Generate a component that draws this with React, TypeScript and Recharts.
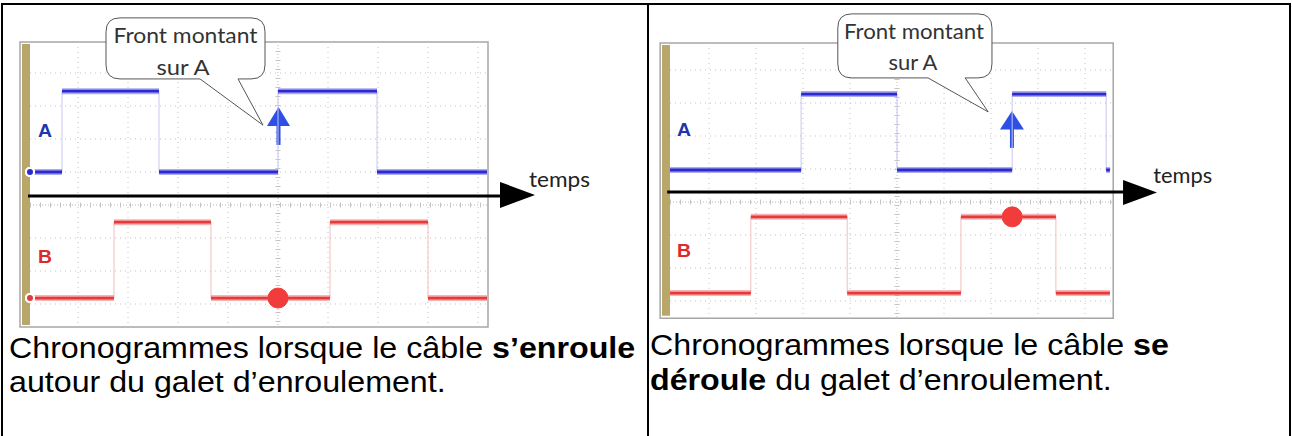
import React from 'react';
import { LineChart, Line, XAxis, YAxis, ReferenceLine, ReferenceArea, ReferenceDot } from 'recharts';

// time in screen divisions (0 = centre graticule), levels in vertical divisions
const leftStart = -4.96;
const leftEnd = 4.18;
const leftEdgesA = [-4.32, -2.38, 0, 1.98];
const leftEdgesB = [-3.28, -1.34, 1.04, 3.0];
const leftLevelsA = [1.0, 3.45]; // low, high
const leftLevelsB = [-2.82, -0.52];
const leftMarker = { t: 0, v: -2.82 };

const rightStart = -4.83;
const rightEnd = 4.53;
const rightEdgesA = [-2.04, 0, 2.45, 4.45];
const rightEdgesB = [-3.11, -1.06, 1.36, 3.38];
const rightLevelsA = [0.97, 3.27];
const rightLevelsB = [-2.76, -0.45];
const rightMarker = { t: 2.45, v: -0.45 };

const calloutLines = ['Front montant', 'sur A'];
const axisLabel = 'temps';
const traceLabels = ['A', 'B'];

const BLUE = '#2a2ad0';
const RED = '#e6393a';
const SANS = '"Liberation Sans", Arial, sans-serif';

// full step trace (used for the faint edges)
const stepPoints = (start: number, end: number, edges: number[], lv: number[]) => {
  const pts = [{ t: start, v: lv[0] }];
  edges.forEach((t, i) => pts.push({ t, v: i % 2 === 0 ? lv[1] : lv[0] }));
  pts.push({ t: end, v: edges.length % 2 === 0 ? lv[0] : lv[1] });
  return pts;
};

// only the plateaus, broken at every edge
const plateaus = (start: number, end: number, edges: number[], lv: number[]) => {
  const b = [start, ...edges, end];
  const pts: { t: number; v: number | null }[] = [];
  for (let i = 0; i < b.length - 1; i++) {
    const v = i % 2 === 0 ? lv[0] : lv[1];
    pts.push({ t: b[i], v }, { t: b[i + 1], v }, { t: b[i + 1], v: null });
  }
  return pts;
};

const calloutShape = (box: any, tail: any) => (p: any) => {
  const { x, y, width: w, height: h } = p;
  const sx = (t: number) => x + ((t - box.x1) / (box.x2 - box.x1)) * w;
  const sy = (v: number) => y + ((box.y2 - v) / (box.y2 - box.y1)) * h;
  const r = 14;
  const b1 = sx(tail.b1);
  const b2 = sx(tail.b2);
  const tx = sx(tail.t);
  const ty = sy(tail.v);
  const d = `M${x + r},${y} H${x + w - r} Q${x + w},${y} ${x + w},${y + r} V${y + h - r} Q${x + w},${y + h} ${x + w - r},${y + h} H${b2} L${tx},${ty} L${b1},${y + h} H${x + r} Q${x},${y + h} ${x},${y + h - r} V${y + r} Q${x},${y} ${x + r},${y} Z`;
  return <path d={d} fill="#fff" stroke="#555" strokeWidth={1} />;
};

const upArrow = (p: any) => {
  const { x, y, width: w, height: h } = p;
  const hh = h * 0.5;
  return (
    <g fill="#2e4fe6">
      <polygon points={`${x},${y + hh} ${x + w / 2},${y} ${x + w},${y + hh}`} />
      <rect x={x + w / 2 - 2} y={y + hh - 1} width={4} height={h - hh + 1} />
    </g>
  );
};

const headRight = (p: any) => {
  const { x, y, width: w, height: h } = p;
  return <polygon points={`${x},${y} ${x + w},${y + h / 2} ${x},${y + h}`} fill="#000" />;
};

// graticule line drawn inside a very thin reference area (keeps it in the area layer)
const gridShape = (vertical: boolean, style: any) => (p: any) => {
  const { x, y, width: w, height: h } = p;
  return vertical ? (
    <line x1={x + w / 2} x2={x + w / 2} y1={y} y2={y + h} {...style} />
  ) : (
    <line x1={x} x2={x + w} y1={y + h / 2} y2={y + h / 2} {...style} />
  );
};

const textAt = (txt: string, opts: any) => (p: any) => (
  <text
    x={p.cx}
    y={p.cy}
    textAnchor={opts.anchor || 'start'}
    fontFamily={opts.font}
    fontSize={opts.size}
    fontWeight={opts.weight || 'normal'}
    fill={opts.fill}
    textLength={opts.len}
    lengthAdjust="spacingAndGlyphs"
  >
    {txt}
  </text>
);

const dotted = { stroke: '#c2c2c2', strokeDasharray: '1 4' };
const centre = { stroke: '#b8b8b8', strokeDasharray: '1 2' };
const ticksV = { stroke: '#c4c4c4', strokeWidth: 5, strokeDasharray: '1 8' };
const ticksH = { stroke: '#c4c4c4', strokeWidth: 5, strokeDasharray: '1 9' };
const E = 0.004;

const Scope = ({ c }: { c: any }) => {
  const f = c.frame;
  const g = c.grid;
  const vLine = (key: string, t: number, style: any) => (
    <ReferenceArea key={key} x1={t - E} x2={t + E} y1={g.y1} y2={g.y2} shape={gridShape(true, style)} ifOverflow="visible" />
  );
  const hLine = (key: string, v: number, style: any) => (
    <ReferenceArea key={key} x1={g.x1} x2={g.x2} y1={v - E} y2={v + E} shape={gridShape(false, style)} ifOverflow="visible" />
  );
  return (
    <LineChart width={c.width} height={c.height} margin={{ top: 0, right: 0, bottom: 0, left: 0 }}>
      <XAxis type="number" dataKey="t" domain={c.xDomain} allowDataOverflow hide />
      <YAxis type="number" dataKey="v" domain={c.yDomain} allowDataOverflow hide />
      <ReferenceArea x1={f.x1} x2={f.x2} y1={f.y1} y2={f.y2} fill="#fff" fillOpacity={1} stroke="#a6a6a6" strokeWidth={1.5} ifOverflow="visible" />
      <ReferenceArea x1={c.gold.x1} x2={c.gold.x2} y1={c.gold.y1} y2={c.gold.y2} fill="#b8a768" fillOpacity={1} ifOverflow="visible" />
      {c.gridX.map((t: number) => vLine('gx' + t, t, dotted))}
      {c.gridY.map((v: number) => hLine('gy' + v, v, dotted))}
      {vLine('cx0', 0, centre)}
      {vLine('cx1', 0, ticksV)}
      {hLine('cy0', 0, centre)}
      {hLine('cy1', 0, ticksH)}
      <ReferenceArea x1={c.arrow.x1} x2={c.arrow.x2} y1={c.arrow.y1} y2={c.arrow.y2} shape={upArrow} ifOverflow="visible" />
      <ReferenceArea
        x1={c.callout.x1}
        x2={c.callout.x2}
        y1={c.callout.y1}
        y2={c.callout.y2}
        shape={calloutShape(c.callout, c.tail)}
        ifOverflow="visible"
      />
      <ReferenceArea x1={c.head.x1} x2={c.head.x2} y1={c.head.y1} y2={c.head.y2} shape={headRight} ifOverflow="visible" />

      <Line data={c.stepA} dataKey="v" type="stepAfter" stroke="#c6c6f2" strokeWidth={1} dot={false} isAnimationActive={false} />
      <Line data={c.stepB} dataKey="v" type="stepAfter" stroke="#f5bebe" strokeWidth={1} dot={false} isAnimationActive={false} />
      <Line data={c.flatA} dataKey="v" type="linear" stroke="#5a5ae0" strokeOpacity={0.5} strokeWidth={6} dot={false} isAnimationActive={false} />
      <Line data={c.flatA} dataKey="v" type="linear" stroke={BLUE} strokeWidth={2.8} dot={false} isAnimationActive={false} />
      <Line data={c.flatB} dataKey="v" type="linear" stroke="#f06a6a" strokeOpacity={0.5} strokeWidth={6} dot={false} isAnimationActive={false} />
      <Line data={c.flatB} dataKey="v" type="linear" stroke={RED} strokeWidth={2.8} dot={false} isAnimationActive={false} />

      <ReferenceLine segment={[{ x: c.axis.x1, y: c.axis.y }, { x: c.axis.x2, y: c.axis.y }]} stroke="#000" strokeWidth={3} ifOverflow="visible" />
      <ReferenceDot x={c.marker.t} y={c.marker.v} r={10} fill="#f23c3c" stroke="#f23c3c" ifOverflow="visible" />
      {calloutLines.map((s, i) => (
        <ReferenceDot
          key={s}
          x={c.calloutText[i].t}
          y={c.calloutText[i].v}
          r={1}
          ifOverflow="visible"
          shape={textAt(s, { anchor: 'middle', font: 'Lato, "Open Sans", sans-serif', size: 21, fill: '#333', len: c.calloutText[i].len })}
        />
      ))}
      <ReferenceDot
        x={c.temps.t}
        y={c.temps.v}
        r={1}
        ifOverflow="visible"
        shape={textAt(axisLabel, { font: 'Lato, "Open Sans", sans-serif', size: 21, fill: '#222', len: c.temps.len })}
      />
      {traceLabels.map((s, i) => (
        <ReferenceDot
          key={s}
          x={c.labels[i].t}
          y={c.labels[i].v}
          r={1}
          ifOverflow="visible"
          shape={textAt(s, { font: SANS, size: 18, weight: 'bold', fill: i === 0 ? '#2235aa' : '#dc2b2b', len: 14 })}
        />
      ))}
    </LineChart>
  );
};

const leftCfg = {
  width: 647,
  height: 330,
  xDomain: [-5.56, 7.38],
  yDomain: [-3.788, 6.212],
  frame: { x1: -5.16, x2: 4.2, y1: -3.7, y2: 4.94 },
  gold: { x1: -5.12, x2: -4.96, y1: -3.64, y2: 4.88 },
  grid: { x1: -4.96, x2: 4.2, y1: -3.7, y2: 4.94 },
  gridX: [-4, -3, -2, -1, 1, 2, 3, 4],
  gridY: [-3, -2, -1, 1, 2, 3, 4],
  stepA: stepPoints(leftStart, leftEnd, leftEdgesA, leftLevelsA),
  stepB: stepPoints(leftStart, leftEnd, leftEdgesB, leftLevelsB),
  flatA: plateaus(leftStart, leftEnd, leftEdgesA, leftLevelsA),
  flatB: plateaus(leftStart, leftEnd, leftEdgesB, leftLevelsB),
  marker: leftMarker,
  arrow: { x1: -0.22, x2: 0.24, y1: 1.82, y2: 2.97 },
  callout: { x1: -3.44, x2: -0.26, y1: 3.82, y2: 5.67 },
  tail: { b1: -1.56, b2: -0.8, t: -0.3, v: 2.42 },
  calloutText: [
    { t: -1.85, v: 4.91, len: 144 },
    { t: -1.9, v: 3.94, len: 53 },
  ],
  axis: { x1: -5.0, x2: 4.46, y: 0.273 },
  head: { x1: 4.44, x2: 5.14, y1: -0.09, y2: 0.7 },
  temps: { t: 5.02, v: 0.545, len: 61 },
  labels: [
    { t: -4.8, v: 2.06 },
    { t: -4.8, v: -1.76 },
  ],
};

const rightCfg = {
  width: 640,
  height: 330,
  xDomain: [-5.277, 8.34],
  yDomain: [-3.879, 6.121],
  frame: { x1: -5.04, x2: 4.6, y1: -3.52, y2: 4.82 },
  gold: { x1: -5.0, x2: -4.83, y1: -3.45, y2: 4.76 },
  grid: { x1: -4.83, x2: 4.6, y1: -3.52, y2: 4.82 },
  gridX: [-4, -3, -2, -1, 1, 2, 3, 4],
  gridY: [-3, -2, -1, 1, 2, 3, 4],
  stepA: stepPoints(rightStart, rightEnd, rightEdgesA, rightLevelsA),
  stepB: stepPoints(rightStart, rightEnd, rightEdgesB, rightLevelsB),
  flatA: plateaus(rightStart, rightEnd, rightEdgesA, rightLevelsA),
  flatB: plateaus(rightStart, rightEnd, rightEdgesB, rightLevelsB),
  marker: rightMarker,
  arrow: { x1: 2.19, x2: 2.7, y1: 1.64, y2: 2.76 },
  callout: { x1: -1.26, x2: 2.02, y1: 3.76, y2: 5.7 },
  tail: { b1: 0.66, b2: 1.45, t: 1.94, v: 2.73 },
  calloutText: [
    { t: 0.36, v: 4.94, len: 140 },
    { t: 0.34, v: 4.0, len: 49 },
  ],
  axis: { x1: -4.89, x2: 4.83, y: 0.3 },
  head: { x1: 4.81, x2: 5.53, y1: -0.09, y2: 0.67 },
  temps: { t: 5.45, v: 0.58, len: 59 },
  labels: [
    { t: -4.68, v: 2.0 },
    { t: -4.68, v: -1.67 },
  ],
};

const captionStyle: React.CSSProperties = {
  position: 'absolute',
  fontFamily: SANS,
  fontSize: 29,
  color: '#000',
  whiteSpace: 'nowrap',
  transform: 'scaleX(1.11)',
  transformOrigin: 'left top',
};

export default function App() {
  return (
    <div style={{ position: 'absolute', left: 0, top: 0, width: 1292, height: 436, overflow: 'hidden', background: '#fff' }}>
      <div style={{ position: 'absolute', left: 1, top: 3, width: 1286, height: 460, border: '2px solid #000' }} />
      <div style={{ position: 'absolute', left: 647, top: 3, width: 2, height: 440, background: '#000' }} />
      <div style={{ position: 'absolute', left: 0, top: 0 }}>
        <Scope c={leftCfg} />
      </div>
      <div style={{ position: 'absolute', left: 649, top: 0 }}>
        <Scope c={rightCfg} />
      </div>
      <div style={{ ...captionStyle, left: 9, top: 331, lineHeight: '34px' }}>
        Chronogrammes lorsque le câble <b>s’enroule</b>
        <br />
        autour du galet d’enroulement.
      </div>
      <div style={{ ...captionStyle, left: 650, top: 328, lineHeight: '35px' }}>
        Chronogrammes lorsque le câble <b>se</b>
        <br />
        <b>déroule</b> du galet d’enroulement.
      </div>
    </div>
  );
}
